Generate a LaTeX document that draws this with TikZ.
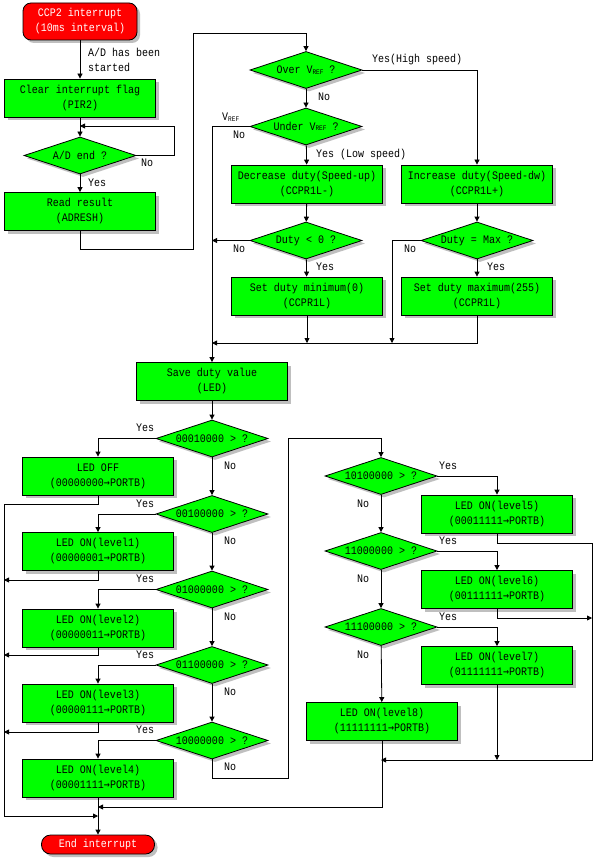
\documentclass[tikz,border=0pt]{standalone}
\usepackage{fontspec}
\setmonofont[FakeStretch=0.87]{Liberation Mono}
\newfontfamily\arrfont[FakeStretch=0.87]{DejaVu Sans Mono}
\usetikzlibrary{shapes.geometric,shadows,arrows.meta}
\definecolor{gr}{RGB}{0,255,0}
\definecolor{rd}{RGB}{255,0,0}
\newcommand\vrefx{V\raisebox{-0.6pt}{\fontsize{7}{7}\selectfont REF}}
\newcommand\toarr{{\arrfont →}}
\begin{document}
\begin{tikzpicture}[x=1pt,y=-1pt,
  font=\ttfamily\fontsize{11.5}{15}\selectfont,
  shad/.style={drop shadow={shadow xshift=3pt,shadow yshift=-3pt,fill=black!25,opacity=1}},
  box/.style={draw,fill=gr,minimum width=151pt,minimum height=38pt,align=center,inner sep=0pt,line width=0.8pt,shad},
  dec/.style={diamond,aspect=3,draw,fill=gr,minimum width=112pt,minimum height=37pt,inner sep=0pt,line width=0.8pt,shad},
  term/.style={draw,fill=rd,text=white,align=center,inner sep=0pt,line width=0.8pt,shad},
  lbl/.style={anchor=west,inner sep=0pt},
  arr/.style={line width=0.8pt,-{Triangle[length=5pt,width=5pt]}},
  ln/.style={line width=0.8pt}]
\useasboundingbox[fill=white] (0,0) rectangle (593,861);

% left top column
\node[term,minimum width=114pt,minimum height=37pt,rounded corners=8pt] (start) at (80,21.5) {CCP2 interrupt\\(10ms interval)};
\node[box] (clr) at (80,98) {Clear interrupt flag\\(PIR2)};
\node[dec] (adend) at (80,155.5) {A/D end ?};
\node[box] (read) at (80,211.5) {Read result\\(ADRESH)};
\coordinate (loopj) at (80,126);

\node[lbl] (l_ad1) at (88,52) {A/D has been};
\node[lbl] (l_ad2) at (88,67) {started};
\node[lbl] (l_adno) at (141,163) {No};
\node[lbl] (l_adyes) at (88,183) {Yes};

\draw[arr] (start) -- (clr);
\draw[arr] (clr) -- (adend);
\draw[arr] (adend.east) -| (174,126) -- (loopj);
\draw[arr] (adend) -- (read);

% speed control
\node[dec] (over) at (306,70) {Over \vrefx\ ?};
\node[dec] (under) at (306,126.5) {Under \vrefx\ ?};
\node[box] (decd) at (307,184) {Decrease duty(Speed-up)\\(CCPR1L-)};
\node[box] (incd) at (477,184) {Increase duty(Speed-dw)\\(CCPR1L+)};
\node[dec] (dlt) at (306,240.5) {Duty < 0 ?};
\node[dec] (dmax) at (477,240.5) {Duty = Max ?};
\node[box] (setmin) at (307,296) {Set duty minimum(0)\\(CCPR1L)};
\node[box] (setmax) at (477,296) {Set duty maximum(255)\\(CCPR1L)};
\node[box] (save) at (212,381.5) {Save duty value\\(LED)};
\coordinate (j1) at (212,240.5);
\coordinate (j2) at (307,343);
\coordinate (j3) at (392,343);
\coordinate (j4) at (212,343);

\draw[arr] (read.south) -- ++(0,18) -| (193,33) -| (over.north);
\draw[arr] (over) -- (under);
\draw[arr] (over.east) -| (incd.north);
\draw[arr] (under.west) -| (save.north);
\draw[arr] (under) -- (decd);
\draw[arr] (decd) -- (dlt);
\draw[arr] (dlt.west) -- (j1);
\draw[arr] (dlt) -- (setmin);
\draw[arr] (setmin) -- (j2);
\draw[arr] (incd) -- (dmax);
\draw[arr] (dmax) -- (setmax);
\draw[arr] (dmax.west) -| (j3);
\draw[arr] (setmax.south) |- (j4);

\node[lbl] (l_hy) at (372,60) {Yes(High speed)};
\node[lbl] (l_ono) at (318,97) {No};
\node[lbl] (l_vref) at (222,117) {\vrefx};
\node[lbl] (l_uno) at (233,135) {No};
\node[lbl] (l_ly) at (316,155) {Yes (Low speed)};
\node[lbl] (l_dno) at (233,249) {No};
\node[lbl] (l_dyes) at (316,267) {Yes};
\node[lbl] (l_mno) at (404,249) {No};
\node[lbl] (l_myes) at (487,267) {Yes};

% LED left column
\node[dec] (d1) at (212,438.5) {00010000 > ?};
\node[dec] (d2) at (212,514) {00100000 > ?};
\node[dec] (d3) at (212,589.5) {01000000 > ?};
\node[dec] (d4) at (212,665) {01100000 > ?};
\node[dec] (d5) at (212,740.5) {10000000 > ?};
\node[box] (b0) at (98,476) {LED OFF\\(00000000\toarr PORTB)};
\node[box] (b1) at (98,551.5) {LED ON(level1)\\(00000001\toarr PORTB)};
\node[box] (b2) at (98,628) {LED ON(level2)\\(00000011\toarr PORTB)};
\node[box] (b3) at (98,703) {LED ON(level3)\\(00000111\toarr PORTB)};
\node[box] (b4) at (98,778) {LED ON(level4)\\(00001111\toarr PORTB)};
\node[term,minimum width=113pt,minimum height=19pt,rounded corners=9pt] (endi) at (98,844.5) {End interrupt};
\coordinate (jl1) at (4,580);
\coordinate (jl2) at (4,655);
\coordinate (jl3) at (4,732);
\coordinate (je1) at (98,816);
\coordinate (je2) at (98,807);

\draw[arr] (save) -- (d1);
\draw[arr] (d1) -- (d2);
\draw[arr] (d2) -- (d3);
\draw[arr] (d3) -- (d4);
\draw[arr] (d4) -- (d5);
\draw[arr] (d1.west) -| (b0.north);
\draw[arr] (d2.west) -| (b1.north);
\draw[arr] (d3.west) -| (b2.north);
\draw[arr] (d4.west) -| (b3.north);
\draw[arr] (d5.west) -| (b4.north);
\draw[arr] (b0.south) -- ++(0,9) -| (4,816) -- (je1);
\draw[arr] (b1.south) |- (jl1);
\draw[arr] (b2.south) |- (jl2);
\draw[arr] (b3.south) |- (jl3);
\draw[arr] (b4) -- (endi);

\foreach \y/\n in {428/1,504/2,579/3,655/4,730/5} \node[lbl] (ly\n) at (136,\y) {Yes};
\foreach \y/\n in {466/1,541/2,617/3,692/4,767/5} \node[lbl] (ln\n) at (224,\y) {No};

% LED right column
\node[dec] (d6) at (381,476) {10100000 > ?};
\node[dec] (d7) at (381,551) {11000000 > ?};
\node[dec] (d8) at (381,627) {11100000 > ?};
\node[box] (b5) at (497,514) {LED ON(level5)\\(00011111\toarr PORTB)};
\node[box] (b6) at (497,589.5) {LED ON(level6)\\(00111111\toarr PORTB)};
\node[box] (b7) at (497,665.5) {LED ON(level7)\\(01111111\toarr PORTB)};
\node[box] (b8) at (382,721.5) {LED ON(level8)\\(11111111\toarr PORTB)};
\coordinate (jr1) at (381,760);
\coordinate (jr2) at (592,618);
\coordinate (jr3) at (497,760);

\draw[arr] (d5.south) -- ++(0,19) -| (288,438) -| (d6.north);
\draw[arr] (d6) -- (d7);
\draw[arr] (d7) -- (d8);
\draw[arr] (d8) -- (b8);
\draw[arr] (d6.east) -| (b5.north);
\draw[arr] (d7.east) -| (b6.north);
\draw[arr] (d8.east) -| (b7.north);
\draw[arr] (b5.south) -- ++(0,10) -| (592,760) -- (jr1);
\draw[arr] (b6.south) |- (jr2);
\draw[arr] (b7) -- (jr3);
\draw[arr] (b8.south) |- (je2);

\foreach \y/\n in {466/6,541/7,617/8} \node[lbl] (ly\n) at (439,\y) {Yes};
\foreach \y/\n in {504/6,579/7,655/8} \node[lbl] (ln\n) at (357,\y) {No};
\end{tikzpicture}
\end{document}
